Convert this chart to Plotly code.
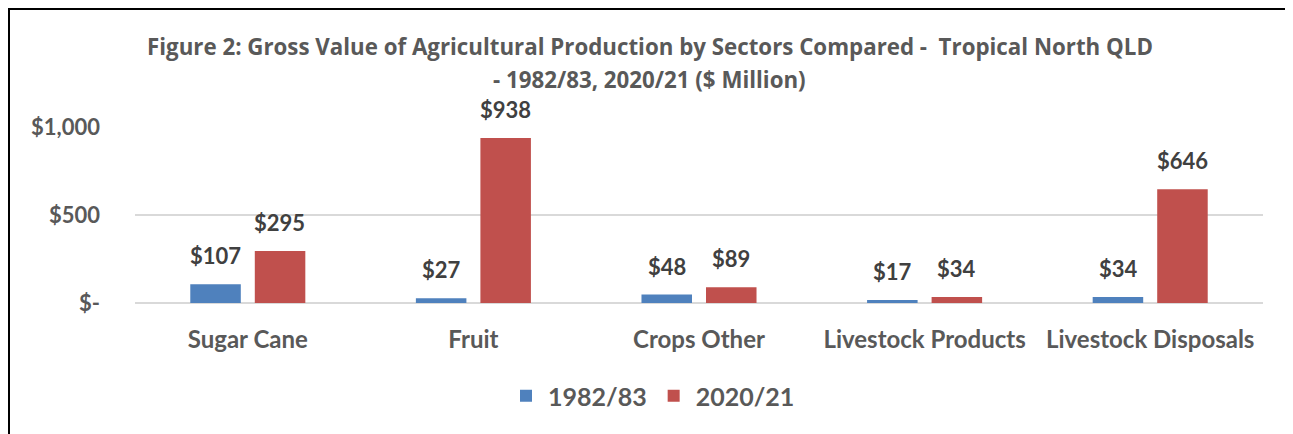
import plotly.graph_objects as go

categories = ["Sugar Cane", "Fruit", "Crops Other", "Livestock Products", "Livestock Disposals"]
series_names = ["1982/83", "2020/21"]
values_1982 = [107, 27, 48, 17, 34]
values_2020 = [295, 938, 89, 34, 646]
tick_vals = [0, 500, 1000]
tick_text = ["$-", "$500", "$1,000"]

colors = ["#4F81BD", "#C0504D"]
FONT = "Lato"
TFONT = "Open Sans"

OFF = 8  # page body margin
W, H = 1293, 434
ML, MT = 135 - OFF, 127 - OFF
PW, PH = 1128, 176
MR, MB = W - ML - PW, H - MT - PH

fig = go.Figure()
for name, vals, col in zip(series_names, [values_1982, values_2020], colors):
    fig.add_trace(go.Bar(
        x=categories, y=vals, name=name, marker=dict(color=col, line=dict(width=0)),
    ))

# data labels
for i, vals in enumerate([values_1982, values_2020]):
    shift = -32 if i == 0 else 32
    for c, v in zip(categories, vals):
        fig.add_annotation(
            x=c, y=v, xref="x", yref="y", text=f"${v}", showarrow=False,
            xshift=shift, yshift=13, yanchor="bottom",
            font=dict(family=FONT, size=22, color="#404040", weight="bold"),
        )

def px_to_paper_x(px):
    return (px - OFF - ML) / PW

def px_to_paper_y(py):
    return 1 - (py - OFF - MT) / PH

# title
fig.add_annotation(
    xref="paper", yref="paper", x=px_to_paper_x(650), y=px_to_paper_y(46),
    text="Figure 2: Gross Value of Agricultural Production by Sectors Compared -  Tropical North QLD",
    showarrow=False, xanchor="center", yanchor="middle",
    font=dict(family=TFONT, size=22.3, color="#595959", weight="bold"),
)
fig.add_annotation(
    xref="paper", yref="paper", x=px_to_paper_x(649), y=px_to_paper_y(79),
    text="- 1982/83, 2020/21 ($ Million)",
    showarrow=False, xanchor="center", yanchor="middle",
    font=dict(family=TFONT, size=22.3, color="#595959", weight="bold"),
)

# border
fig.add_shape(
    type="rect", xref="paper", yref="paper",
    x0=px_to_paper_x(9), x1=px_to_paper_x(1287),
    y0=px_to_paper_y(450), y1=px_to_paper_y(9),
    line=dict(color="#000000", width=2), fillcolor="rgba(0,0,0,0)", layer="above",
)

fig.update_layout(
    width=W, height=H,
    margin=dict(l=ML, r=MR, t=MT, b=MB),
    paper_bgcolor="white", plot_bgcolor="white",
    barmode="group", bargap=0.428, bargroupgap=0.217,
    showlegend=True,
    legend=dict(
        orientation="h", x=px_to_paper_x(652), y=px_to_paper_y(396),
        xanchor="center", yanchor="middle",
        font=dict(family=FONT, size=25, color="#595959", weight="bold"),
        itemwidth=34, traceorder="normal",
    ),
    font=dict(family=FONT),
)
fig.update_xaxes(
    showgrid=False, showline=False, ticks="",
    tickfont=dict(family=FONT, size=24, color="#595959", weight="bold"),
    ticklabelstandoff=20,
)
fig.update_yaxes(
    range=[0, 1000], tickvals=tick_vals, ticktext=tick_text,
    showgrid=True, gridcolor="#D9D9D9", gridwidth=1.5,
    zeroline=True, zerolinecolor="#D9D9D9", zerolinewidth=1.5,
    showline=False, ticks="",
    tickfont=dict(family=FONT, size=22, color="#595959", weight="bold"),
    ticklabelstandoff=34,
)

fig.write_html("out.html")
